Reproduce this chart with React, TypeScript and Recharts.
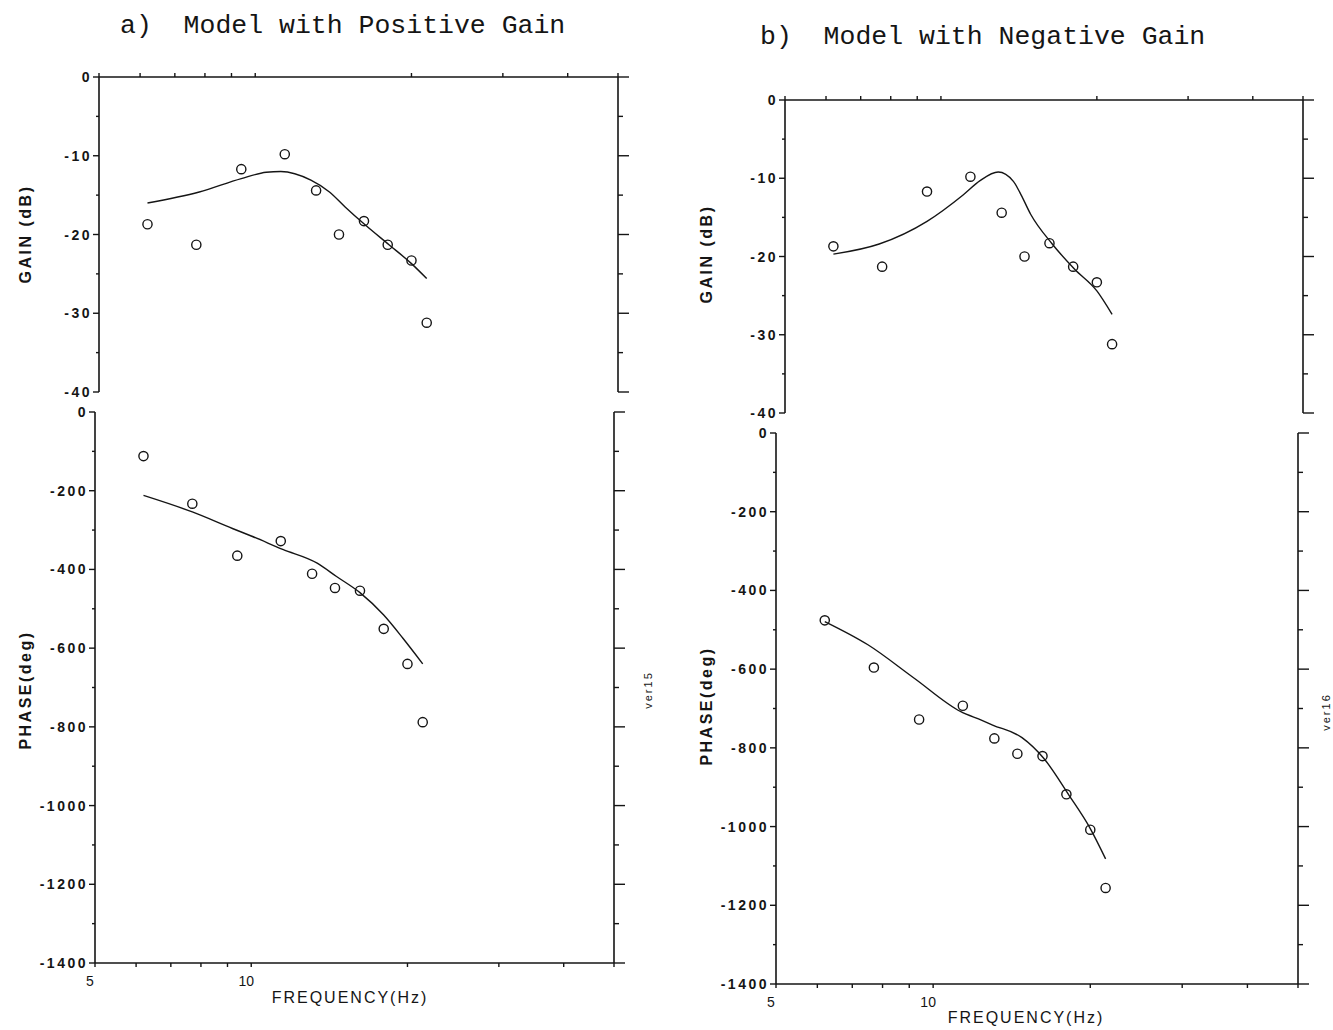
import React from "react";
import { ComposedChart, Line, Scatter, XAxis, YAxis } from "recharts";

const INK = "#151515";

// measured points, same frequencies for both models
const freqHz = [6.2, 7.7, 9.4, 11.4, 13.1, 14.5, 16.2, 18.0, 20.0, 21.4];
const gainDb = [-18.7, -21.3, -11.7, -9.8, -14.4, -20.0, -18.3, -21.3, -23.3, -31.2];
const phasePosDeg = [-112, -233, -365, -328, -411, -447, -454, -551, -640, -788];
const phaseNegDeg = [-476, -596, -728, -693, -776, -815, -821, -918, -1008, -1156];

// model responses as [frequency, value]
const posGainFit = [
  [6.2, -16.0], [7.8, -14.6], [9.4, -12.9], [10.5, -12.1], [11.2, -12.0], [12.8, -13.1],
  [13.9, -14.6], [14.9, -16.5], [16.3, -18.8], [18.1, -21.3], [20.0, -23.7], [21.4, -25.6],
];
const posPhaseFit = [
  [6.2, -212], [7.7, -254], [9.2, -296], [10.0, -315], [11.5, -349], [13.4, -384],
  [14.6, -418], [16.2, -459], [18.0, -516], [19.6, -575], [21.4, -640],
];
const negGainFit = [
  [6.2, -19.7], [7.6, -18.4], [9.4, -15.5], [11.05, -12.1], [11.9, -10.3], [12.9, -9.2],
  [13.8, -10.4], [14.2, -11.8], [14.9, -14.6], [16.4, -18.4], [18.1, -21.6], [20.0, -24.4], [21.4, -27.4],
];
const negPhaseFit = [
  [6.2, -479], [7.5, -538], [9.2, -623], [11.3, -708], [12.4, -730], [13.0, -742],
  [14.8, -774], [16.3, -827], [18.2, -920], [20.0, -1005], [21.4, -1082],
];

const freqTicks = [5, 6, 7, 8, 9, 10, 20, 30, 40, 50];
const freqLabels = [5, 10];
const gainTicks = [0, -5, -10, -15, -20, -25, -30, -35, -40];
const phaseTicks = [0, -100, -200, -300, -400, -500, -600, -700, -800, -900, -1000, -1100, -1200, -1300, -1400];

type Box = { left: number; top: number; right: number; bottom: number };

const toPoints = (xs: number[], ys: number[]) => xs.map((f, i) => ({ f, v: ys[i] }));
const fitPoints = (pairs: number[][]) => pairs.map(([f, v]) => ({ f, v }));

const tickFont: React.CSSProperties = {
  fontFamily: "'Liberation Sans', Arial, sans-serif",
  fontWeight: 700,
  fontSize: 14,
  letterSpacing: 2.5,
  fill: INK,
};

const leftTick = (major: number) => (props: any) => {
  const { x, y, payload } = props;
  const isMajor = payload.value % major === 0;
  return (
    <g>
      <line x1={x} x2={x - (isMajor ? 6 : 3)} y1={y} y2={y} stroke={INK} strokeWidth={1.4} />
      {isMajor && (
        <text x={x - 7} y={y} textAnchor="end" dominantBaseline="central" style={tickFont}>
          {payload.value}
        </text>
      )}
    </g>
  );
};

const rightTick = (major: number) => (props: any) => {
  const { x, y, payload } = props;
  const isMajor = payload.value % major === 0;
  return <line x1={x} x2={x + (isMajor ? 11 : 5)} y1={y} y2={y} stroke={INK} strokeWidth={1.4} />;
};

const topTick = (props: any) => {
  const { x, y } = props;
  return <line x1={x} x2={x} y1={y} y2={y - 4} stroke={INK} strokeWidth={1.4} />;
};

const bottomTick = (props: any) => {
  const { x, y, payload } = props;
  return (
    <g>
      <line x1={x} x2={x} y1={y} y2={y + 4} stroke={INK} strokeWidth={1.4} />
      {freqLabels.includes(payload.value) && (
        <text
          x={x - 5}
          y={y + 23}
          textAnchor="middle"
          style={{ fontFamily: "'Liberation Sans', Arial, sans-serif", fontSize: 14, fill: INK }}
        >
          {payload.value}
        </text>
      )}
    </g>
  );
};

const ring = (p: any) => <circle cx={p.cx} cy={p.cy} r={4.6} fill="none" stroke={INK} strokeWidth={1.4} />;

const axisLine = { stroke: INK, strokeWidth: 1.6 };

function ResponsePlot({
  box,
  kind,
  fit,
  obs,
}: {
  box: Box;
  kind: "gain" | "phase";
  fit: { f: number; v: number }[];
  obs: { f: number; v: number }[];
}) {
  const isGain = kind === "gain";
  const padL = 80;
  const padR = 24;
  const padT = isGain ? 16 : 10;
  const padB = isGain ? 10 : 34;
  const w = box.right - box.left + padL + padR;
  const h = box.bottom - box.top + padT + padB;
  const ticks = isGain ? gainTicks : phaseTicks;
  const domain = isGain ? [-40, 0] : [-1400, 0];
  const major = isGain ? 10 : 200;

  return (
    <div style={{ position: "absolute", left: box.left - padL, top: box.top - padT }}>
      <ComposedChart
        width={w}
        height={h}
        margin={{ top: isGain ? 0 : padT, right: 0, bottom: isGain ? padB : 0, left: 0 }}
      >
        <XAxis
          dataKey="f"
          type="number"
          scale="log"
          domain={[5, 50]}
          ticks={freqTicks}
          interval={0}
          orientation={isGain ? "top" : "bottom"}
          height={isGain ? padT : padB}
          tickSize={0}
          tickMargin={0}
          tickLine={false}
          axisLine={axisLine}
          tick={isGain ? topTick : bottomTick}
          allowDataOverflow
        />
        <YAxis
          yAxisId="l"
          dataKey="v"
          type="number"
          domain={domain}
          ticks={ticks}
          interval={0}
          width={padL}
          tickSize={0}
          tickMargin={0}
          tickLine={false}
          axisLine={axisLine}
          tick={leftTick(major)}
        />
        <YAxis
          yAxisId="r"
          dataKey="v"
          orientation="right"
          type="number"
          domain={domain}
          ticks={ticks}
          interval={0}
          width={padR}
          tickSize={0}
          tickMargin={0}
          tickLine={false}
          axisLine={axisLine}
          tick={rightTick(major)}
        />
        <Line
          yAxisId="l"
          data={fit}
          dataKey="v"
          type="monotone"
          stroke={INK}
          strokeWidth={1.4}
          dot={false}
          activeDot={false}
          isAnimationActive={false}
        />
        {/* same domain on both y axes, so the rings can ride on the right one */}
        <Scatter yAxisId="r" data={obs} dataKey="v" shape={ring} isAnimationActive={false} />
      </ComposedChart>
    </div>
  );
}

const titleStyle: React.CSSProperties = {
  position: "absolute",
  fontFamily: "'Liberation Mono', 'Courier New', monospace",
  fontSize: 26.5,
  whiteSpace: "pre",
  color: INK,
  lineHeight: 1,
};

const labelFont = "'Liberation Sans', Arial, sans-serif";

export default function App() {
  return (
    <div style={{ position: "absolute", left: 0, top: 0, width: 1333, height: 1030, background: "#fff" }}>
      <div style={{ ...titleStyle, left: 120, top: 13 }}>{"a)  Model with Positive Gain"}</div>
      <div style={{ ...titleStyle, left: 760, top: 24 }}>{"b)  Model with Negative Gain"}</div>

      <ResponsePlot
        box={{ left: 99, top: 77, right: 618, bottom: 392 }}
        kind="gain"
        fit={fitPoints(posGainFit)}
        obs={toPoints(freqHz, gainDb)}
      />
      <ResponsePlot
        box={{ left: 95, top: 412, right: 614, bottom: 963 }}
        kind="phase"
        fit={fitPoints(posPhaseFit)}
        obs={toPoints(freqHz, phasePosDeg)}
      />
      <ResponsePlot
        box={{ left: 785, top: 100, right: 1303, bottom: 413 }}
        kind="gain"
        fit={fitPoints(negGainFit)}
        obs={toPoints(freqHz, gainDb)}
      />
      <ResponsePlot
        box={{ left: 776, top: 433, right: 1298, bottom: 984 }}
        kind="phase"
        fit={fitPoints(negPhaseFit)}
        obs={toPoints(freqHz, phaseNegDeg)}
      />

      <svg width={1333} height={1030} style={{ position: "absolute", left: 0, top: 0, pointerEvents: "none" }}>
        <g fontFamily={labelFont} fill={INK}>
          <text transform="translate(25,234) rotate(-90)" textAnchor="middle" dominantBaseline="central"
            fontSize={16} fontWeight={700} letterSpacing={2.5}>GAIN (dB)</text>
          <text transform="translate(25,690) rotate(-90)" textAnchor="middle" dominantBaseline="central"
            fontSize={16} fontWeight={700} letterSpacing={2.5}>PHASE(deg)</text>
          <text transform="translate(706,254) rotate(-90)" textAnchor="middle" dominantBaseline="central"
            fontSize={16} fontWeight={700} letterSpacing={2.5}>GAIN (dB)</text>
          <text transform="translate(706,706) rotate(-90)" textAnchor="middle" dominantBaseline="central"
            fontSize={16} fontWeight={700} letterSpacing={2.5}>PHASE(deg)</text>
          <text x={350} y={997} textAnchor="middle" dominantBaseline="central" fontSize={16} letterSpacing={2}>
            FREQUENCY(Hz)
          </text>
          <text x={1026} y={1017} textAnchor="middle" dominantBaseline="central" fontSize={16} letterSpacing={2}>
            FREQUENCY(Hz)
          </text>
          <text transform="translate(648,690) rotate(-90)" textAnchor="middle" dominantBaseline="central"
            fontSize={11} letterSpacing={2}>ver15</text>
          <text transform="translate(1326,712) rotate(-90)" textAnchor="middle" dominantBaseline="central"
            fontSize={11} letterSpacing={2}>ver16</text>
        </g>
      </svg>
    </div>
  );
}
